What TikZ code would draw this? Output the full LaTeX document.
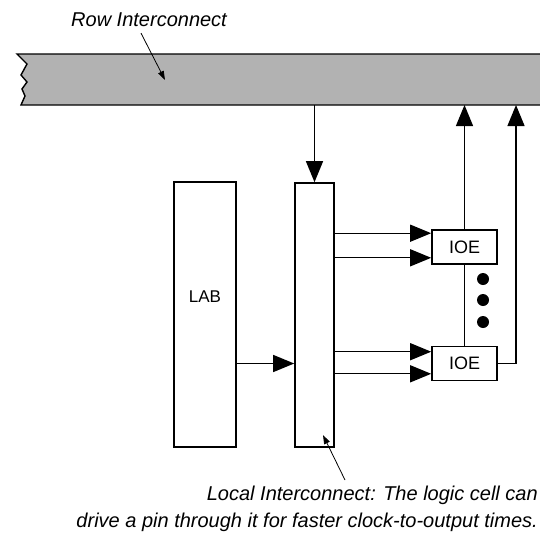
\documentclass[tikz,border=0pt]{standalone}
\usepackage{fontspec}
\setmainfont{Liberation Sans}
\usetikzlibrary{arrows.meta, calc}

\begin{document}
\begin{tikzpicture}[x=1pt, y=-1pt, >={Triangle[length=21pt, width=17pt]},
  blk/.style={draw, line width=1.6pt, inner sep=0pt},
  wire/.style={line width=1.3pt},
  note/.style={font=\fontsize{20}{27}\selectfont\itshape, inner sep=0pt},
  ptr/.style={line width=0.8pt, -{Triangle[length=9pt, width=6pt]}}]

\useasboundingbox (0,0) rectangle (540,538);

% Row interconnect bar, torn at the left end
\fill[gray!60] (17,54) -- (545,54) -- (545,105) -- (21,105) -- (25,96) -- (22,89) -- (27,82) -- (21,75) -- (27,64) -- cycle;
\draw[line width=1.4pt] (545,54) -- (17,54) -- (27,64) -- (21,75) -- (27,82) -- (22,89) -- (25,96) -- (21,105) -- (545,105);
\coordinate (rowbot) at (0,105);
\coordinate (rowR) at (516,105);

% Blocks
\node[blk, minimum width=62pt, minimum height=265pt,
  label={[font=\fontsize{17}{17}\selectfont, yshift=17.5pt]center:LAB}] (lab) at (205,314.5) {};
\node[blk, minimum width=39pt, minimum height=264pt] (local) at (314.5,315) {};
\node[blk, minimum width=65pt, minimum height=34pt, font=\fontsize{18}{18}\selectfont] (ioeA) at (464.5,247) {IOE};
\node[blk, minimum width=65pt, minimum height=34pt, font=\fontsize{18}{18}\selectfont] (ioeB) at (464.5,363.5) {IOE};

% Inputs
\draw[wire, ->] (local.north |- rowbot) -- (local.north);
\draw[wire, ->] (lab.east |- ioeB) -- (local.west |- ioeB);
\coordinate (a1) at ($(ioeA.north west)+(0,4)$);
\coordinate (a2) at ($(ioeA.south west)+(0,-7)$);
\coordinate (b1) at ($(ioeB.north west)+(0,6)$);
\coordinate (b2) at ($(ioeB.south west)+(0,-7.5)$);
\foreach \p in {a1,a2,b1,b2}
  \draw[wire, ->] (local.east |- \p) -- (\p);

% Outputs back to the row
\draw[wire, ->] (ioeA.north) -- (ioeA.north |- rowbot);
\draw[wire] (ioeA.south) -- (ioeB.north);
\draw[wire, ->] (ioeB.east) -| (rowR);
\foreach \y in {279,300,322}
  \fill (483,\y) circle (6pt);

% Callouts
\node[note, anchor=west] (rowlbl) at (71,20) {Row Interconnect};
\coordinate (rowtip) at (165,80);
\draw[ptr] ([xshift=-8pt, yshift=-6pt]rowlbl.south) -- (rowtip);

\node[note, align=right, anchor=north east] (localnote) at (538,485.5)
  {Local Interconnect: The logic cell can\\drive a pin through it for faster clock-to-output times.};
\coordinate (localfrom) at (345,480);
\coordinate (localtip) at (323,435);
\draw[ptr] (localfrom) -- (localtip);

\end{tikzpicture}
\end{document}
